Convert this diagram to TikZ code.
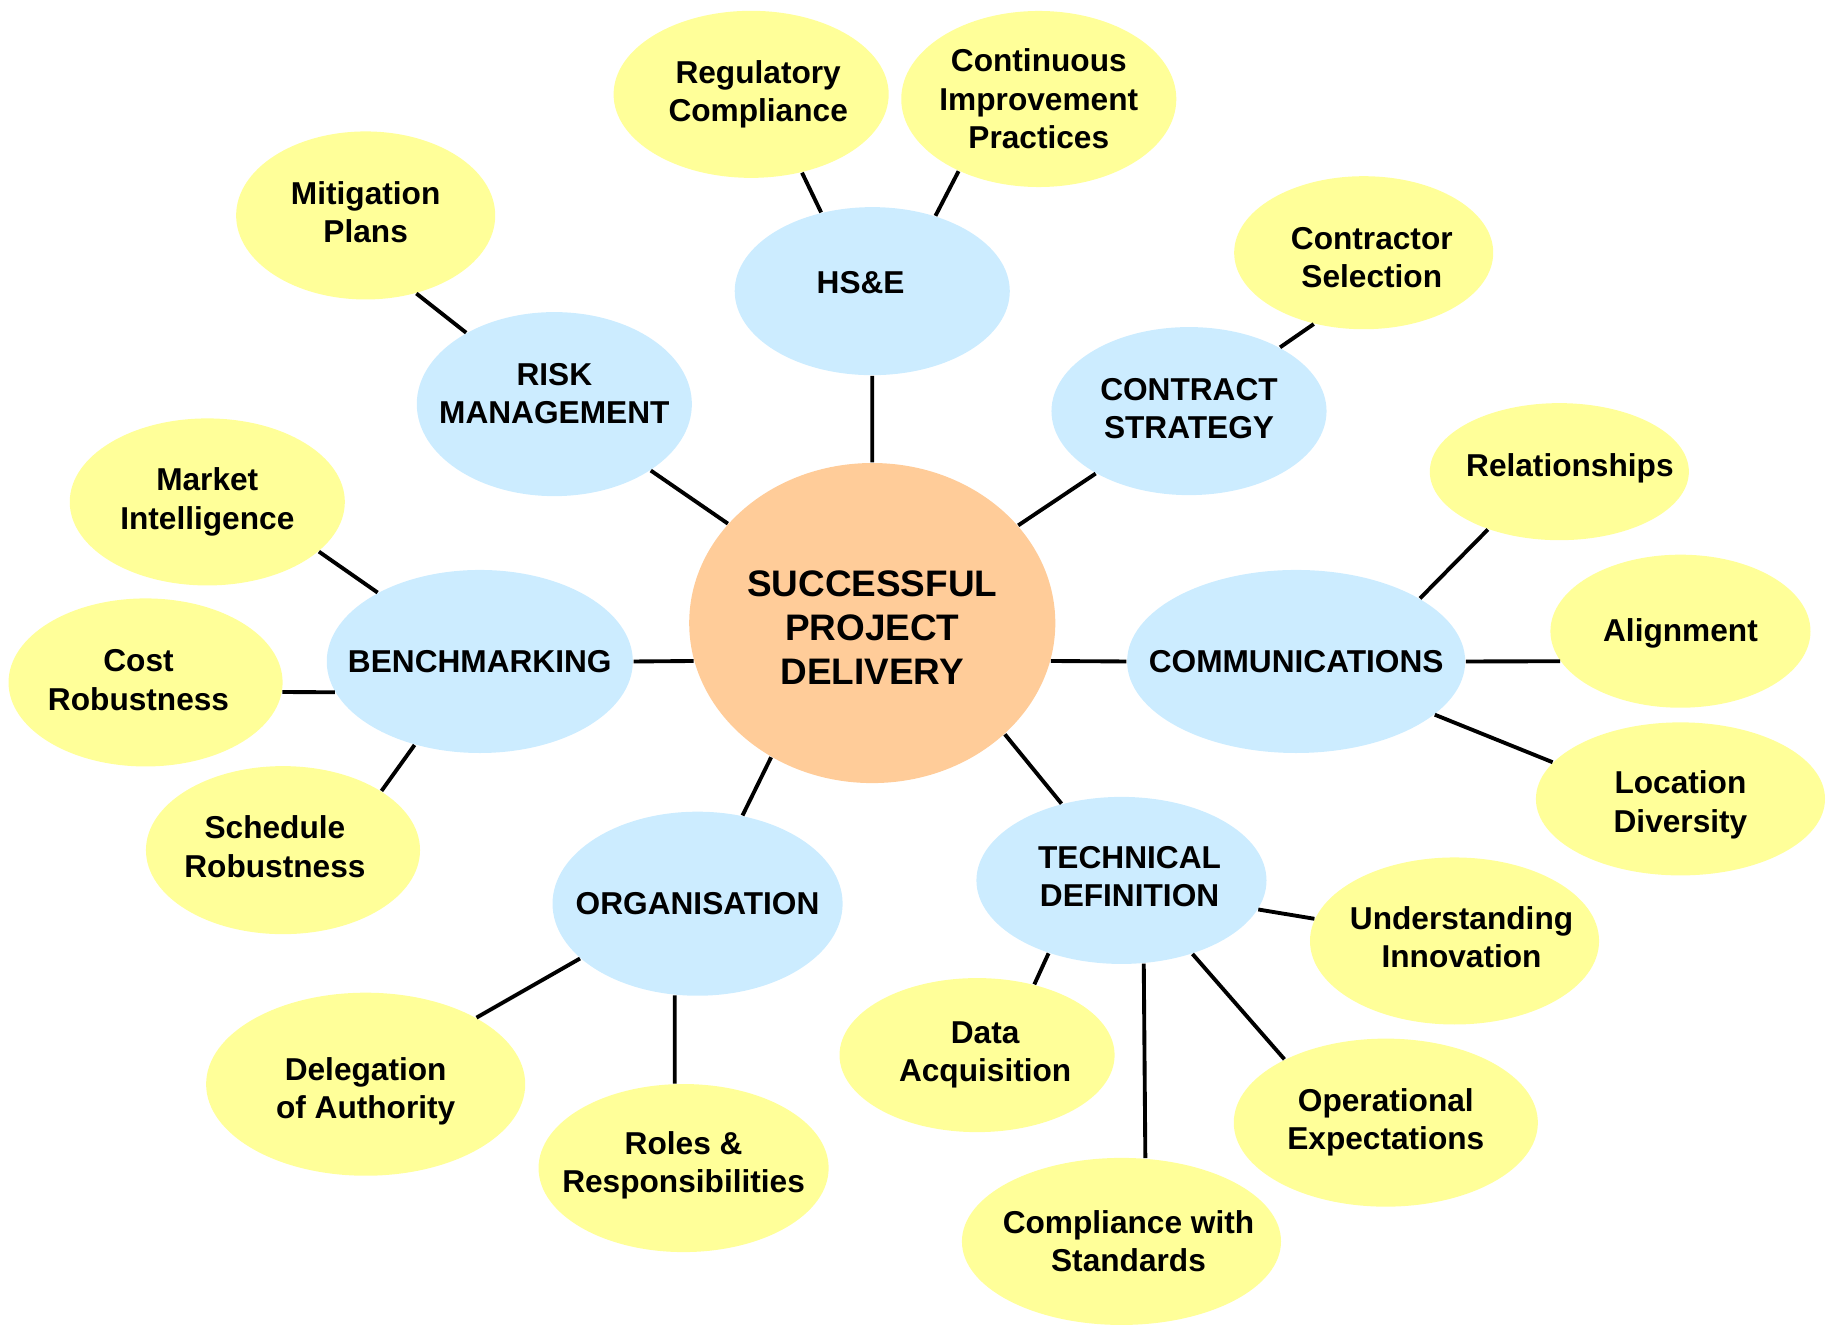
\documentclass[tikz,border=0pt]{standalone}
\usepackage{fontspec}
\setmainfont{Liberation Sans}
\usepackage{tikz}
\usepackage{xcolor}
\usetikzlibrary{shapes.geometric, positioning}

\definecolor{hubfill}{HTML}{FFCC99}
\definecolor{topicfill}{HTML}{CCECFF}
\definecolor{itemfill}{HTML}{FFFF99}

\begin{document}
\begin{tikzpicture}[x=0.01165cm, y=-0.01165cm,
        hub/.style={ellipse, fill=hubfill, inner sep=0pt},
        topic/.style={ellipse, fill=topicfill, inner sep=0pt},
        item/.style={ellipse, fill=itemfill, inner sep=0pt},
        lbl/.style={align=center, inner sep=0pt, font=\bfseries\fontsize{9}{10.9}\selectfont},
        biglbl/.style={align=center, inner sep=0pt, font=\bfseries\fontsize{10.5}{12.6}\selectfont},
        link/.style={line width=1.1pt}]
        \useasboundingbox (0, 0) rectangle (1568, 1139);

        % centre
        \node[hub, minimum width=3.66cm, minimum height=3.20cm, label={[biglbl, yshift=-1.3pt]center:SUCCESSFUL\\PROJECT\\DELIVERY}] (hub) at (749, 535) {};

        % topics
        \node[topic, minimum width=2.75cm, minimum height=1.68cm, label={[lbl, xshift=-3.3pt, yshift=2.3pt]center:HS\&E}] (hse) at (749, 250) {};
        \node[topic, minimum width=2.75cm, minimum height=1.84cm, label={[lbl, yshift=3pt]center:RISK\\MANAGEMENT}] (risk) at (476, 347) {};
        \node[topic, minimum width=2.75cm, minimum height=1.68cm, label={[lbl, yshift=0.7pt]center:CONTRACT\\STRATEGY}] (contract) at (1021, 353) {};
        \node[topic, minimum width=3.06cm, minimum height=1.83cm, label={[lbl]center:BENCHMARKING}] (bench) at (412, 568) {};
        \node[topic, minimum width=3.38cm, minimum height=1.83cm, label={[lbl]center:COMMUNICATIONS}] (comm) at (1113, 568) {};
        \node[topic, minimum width=2.90cm, minimum height=1.84cm, label={[lbl]center:ORGANISATION}] (org) at (599, 776) {};
        \node[topic, minimum width=2.90cm, minimum height=1.67cm, label={[lbl, xshift=2.3pt, yshift=1pt]center:TECHNICAL\\DEFINITION}] (tech) at (963, 756) {};

        % items
        \node[item, minimum width=2.75cm, minimum height=1.67cm, label={[lbl, xshift=2pt]center:Regulatory\\Compliance}] (reg) at (645, 81) {};
        \node[item, minimum width=2.75cm, minimum height=1.76cm, label={[lbl]center:Continuous\\Improvement\\Practices}] (cip) at (892, 85) {};
        \node[item, minimum width=2.59cm, minimum height=1.68cm, label={[lbl, yshift=1pt]center:Mitigation\\Plans}] (mitig) at (314, 185) {};
        \node[item, minimum width=2.59cm, minimum height=1.53cm, label={[lbl, xshift=2.3pt, yshift=-1.3pt]center:Contractor\\Selection}] (csel) at (1171, 217) {};
        \node[item, minimum width=2.59cm, minimum height=1.37cm, label={[lbl, xshift=3pt, yshift=1pt]center:Relationships}] (rel) at (1339, 405) {};
        \node[item, minimum width=2.75cm, minimum height=1.67cm, label={[lbl]center:Market\\Intelligence}] (market) at (178, 431) {};
        \node[item, minimum width=2.60cm, minimum height=1.53cm, label={[lbl, yshift=-0.7pt]center:Alignment}] (alignm) at (1443, 542) {};
        \node[item, minimum width=2.74cm, minimum height=1.68cm, label={[lbl, xshift=-2pt, yshift=0.7pt]center:Cost\\Robustness}] (cost) at (125, 586) {};
        \node[item, minimum width=2.74cm, minimum height=1.68cm, label={[lbl, xshift=-2.3pt, yshift=1pt]center:Schedule\\Robustness}] (sched) at (243, 730) {};
        \node[item, minimum width=2.89cm, minimum height=1.53cm, label={[lbl, yshift=-1.7pt]center:Location\\Diversity}] (loc) at (1443, 686) {};
        \node[item, minimum width=2.89cm, minimum height=1.67cm, label={[lbl, xshift=2pt, yshift=1pt]center:Understanding\\Innovation}] (innov) at (1249, 808) {};
        \node[item, minimum width=2.75cm, minimum height=1.54cm, label={[lbl, xshift=2.3pt]center:Data\\Acquisition}] (data) at (839, 906) {};
        \node[item, minimum width=3.19cm, minimum height=1.83cm, label={[lbl, yshift=-2pt]center:Delegation\\of Authority}] (deleg) at (314, 931) {};
        \node[item, minimum width=3.04cm, minimum height=1.68cm, label={[lbl]center:Operational\\Expectations}] (oper) at (1190, 964) {};
        \node[item, minimum width=2.90cm, minimum height=1.68cm, label={[lbl, yshift=0.7pt]center:Roles \&\\Responsibilities}] (roles) at (587, 1003) {};
        \node[item, minimum width=3.19cm, minimum height=1.67cm, label={[lbl, xshift=2pt]center:Compliance with\\Standards}] (stds) at (963, 1066) {};

        % centre to topics
        \draw[link] (hub.north) to (hse.south)
            (hub) to (risk)
            (hub) to (contract)
            (hub.192) to (bench.east)
            (hub.-12) to (comm.west)
            (hub.233) to (org.63)
            (hub.-40) to (tech.128);

        % topics to items
        \draw[link] (hse.123) to (reg.-57)
            (hse.50) to (cip.-138)
            (risk.141) to (mitig.-57)
            (contract.35) to (csel.-125)
            (comm.27) to (rel.-141)
            (comm.east) to (alignm.194)
            (comm.-21) to (loc.164)
            (bench.146) to (market.-24)
            (bench.192) to (cost.-4)
            (bench.232) to (sched.31)
            (org.205) to (deleg.31)
            (org.256) to (roles.96)
            (tech.-12) to (innov.171)
            (tech.225) to (data.51)
            (tech.-75) to (stds.74)
            (tech.-46) to (oper.148);
    \end{tikzpicture}
\end{document}
